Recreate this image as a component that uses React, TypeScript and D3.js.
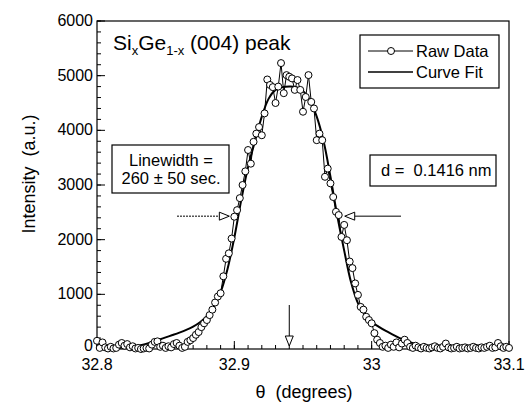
import * as d3 from "d3";

// raw scan: theta = rawStart + i * rawStep
const rawStart = 32.8;
const rawStep = 0.002;
const rawIntensity = [
  150, 20, 120, 30, 10, 40, 10, 20, 80, 110,
  60, 90, 30, 50, 10, 20, 0, 10, 20, 10,
  80, 130, 140, 40, 60, 20, 50, 30, 90, 110,
  60, 20, 40, 130, 160, 200, 260, 310, 400, 470,
  530, 620, 720, 850, 960, 1020, 1330, 1650, 1750, 2020,
  2420, 2540, 2760, 3000, 3250, 3640, 3390, 3790, 3940, 4060,
  3910, 4310, 4930, 4830, 4790, 4500, 4800, 5230, 4680, 5010,
  4980, 4950, 4740, 4920, 4740, 4340, 4610, 5010, 4520, 4400,
  3820, 3940, 3820, 3150, 3300, 3030, 2780, 2510, 2450, 2050,
  2270, 1990, 1600, 1480, 1200, 990, 770, 720, 590, 530,
  470, 290, 170, 110, 40, 60, 20, 80, 40, 120,
  30, 100, 170, 110, 40, 20, 60, 30, 10, 40,
  20, 10, 30, 50, 20, 10, 40, 100, 30, 10,
  20, 40, 10, 20, 30, 10, 20, 40, 20, 10,
  30, 20, 40, 60, 20, 30, 110, 50, 20, 40,
  20,
];

// fitted curve: theta = fitStart + i * fitStep
const fitStart = 32.8;
const fitStep = 0.005;
const fitIntensity = [
  0, 4, 9, 16, 26, 40, 60, 88, 126, 168,
  212, 255, 300, 350, 410, 490, 600, 770, 1040, 1460,
  2040, 2720, 3330, 3800, 4250, 4580, 4740, 4790, 4800, 4790,
  4720, 4550, 4250, 3800, 3150, 2430, 1800, 1220, 840, 630,
  495, 410, 335, 268, 205, 150, 104, 68, 42, 26,
  15, 9, 5, 3, 2, 1, 0, 0, 0, 0,
  0,
];

const xTicks = [32.8, 32.9, 33, 33.1];
const yTicks = [0, 1000, 2000, 3000, 4000, 5000, 6000];
const peakTheta = 32.94;
const halfLeft = 32.9;
const halfRight = 32.976;
const halfMax = 2430;

const W = 526;
const H = 405;
const font = "'Liberation Sans', Arial, Helvetica, sans-serif";

export default function App() {
  const x = d3.scaleLinear().domain([32.8, 33.1]).range([97, 509]);
  const y = d3.scaleLinear().domain([0, 6000]).range([349, 21]);

  const raw = rawIntensity.map((v, i) => [rawStart + i * rawStep, v] as [number, number]);
  const fit = fitIntensity.map((v, i) => [fitStart + i * fitStep, v] as [number, number]);

  const rawLine = d3.line<[number, number]>().x((d) => x(d[0])).y((d) => y(d[1]));
  const fitLine = d3
    .line<[number, number]>()
    .x((d) => x(d[0]))
    .y((d) => y(d[1]))
    .curve(d3.curveCatmullRom.alpha(0.5));

  const xMinor = d3.range(0, 31).map((i) => 32.8 + i * 0.01);
  const yMinor = d3.range(0, 31).map((i) => i * 200);

  // open arrow head pointing in direction (dx, dy)
  const head = (tx: number, ty: number, dx: number, dy: number) => {
    const L = 10, w = 4;
    const bx = tx - dx * L, by = ty - dy * L;
    const px = -dy * w, py = dx * w;
    return `M${tx},${ty}L${bx + px},${by + py}L${bx - px},${by - py}Z`;
  };

  const hy = y(halfMax);
  const lx = x(halfLeft) - 5;
  const rx = x(halfRight) + 6;
  const px = x(peakTheta);

  return (
    <svg
      width={W}
      height={H}
      style={{ position: "absolute", left: 0, top: 0, background: "#fff" }}
      fontFamily={font}
    >
      <rect x={0} y={0} width={W} height={H} fill="#fff" />
      {/* frame */}
      <rect x={97} y={21} width={412} height={328} fill="none" stroke="#000" strokeWidth={1.2} />

      {/* x ticks */}
      {xMinor.map((t, i) => (
        <line key={"xm" + i} x1={x(t)} x2={x(t)} y1={349} y2={345} stroke="#000" />
      ))}
      {xTicks.map((t) => (
        <g key={"xt" + t}>
          <line x1={x(t)} x2={x(t)} y1={349} y2={341} stroke="#000" />
          <text x={x(t)} y={370} fontSize={16} textAnchor="middle">
            {t}
          </text>
        </g>
      ))}

      {/* y ticks */}
      {yMinor.map((t, i) => (
        <line key={"ym" + i} x1={97} x2={101} y1={y(t)} y2={y(t)} stroke="#000" />
      ))}
      {yTicks.map((t) => (
        <g key={"yt" + t}>
          <line x1={97} x2={105} y1={y(t)} y2={y(t)} stroke="#000" />
          <text x={93} y={y(t) + (t === 0 ? 2 : 5)} fontSize={16} textAnchor="end">
            {t}
          </text>
        </g>
      ))}

      {/* axis titles */}
      <text
        transform={`translate(35,${174}) rotate(-90)`}
        fontSize={18}
        textAnchor="middle"
        xmlSpace="preserve"
      >
        Intensity  (a.u.)
      </text>
      <text x={304} y={398} fontSize={18} textAnchor="middle" xmlSpace="preserve">
        θ  (degrees)
      </text>

      {/* curve fit */}
      <path d={fitLine(fit) || ""} fill="none" stroke="#000" strokeWidth={2} />
      {/* raw data */}
      <path d={rawLine(raw) || ""} fill="none" stroke="#000" strokeWidth={1} />
      {raw.map((d, i) => (
        <circle key={"p" + i} cx={x(d[0])} cy={y(d[1])} r={3.5} fill="#fff" stroke="#000" strokeWidth={1} />
      ))}

      {/* title */}
      <text x={113} y={50} fontSize={21}>
        Si
        <tspan fontSize={13} dy={5}>x</tspan>
        <tspan dy={-5}>Ge</tspan>
        <tspan fontSize={13} dy={5}>1-x</tspan>
        <tspan dy={-5}> (004) peak</tspan>
      </text>

      {/* legend */}
      <rect x={360} y={35} width={139} height={53} fill="#fff" stroke="#000" strokeWidth={1.2} />
      <line x1={368} x2={413} y1={51} y2={51} stroke="#000" />
      <circle cx={391} cy={51} r={3.5} fill="#fff" stroke="#000" />
      <text x={416} y={57} fontSize={16.5}>Raw Data</text>
      <line x1={368} x2={413} y1={72} y2={72} stroke="#000" strokeWidth={1.5} />
      <text x={416} y={78} fontSize={16.5}>Curve Fit</text>

      {/* linewidth box */}
      <rect x={112} y={145} width={117} height={48} fill="#fff" stroke="#000" strokeWidth={1.2} />
      <text x={171} y={166} fontSize={16.5} textAnchor="middle">Linewidth =</text>
      <text x={171} y={184} fontSize={16.5} textAnchor="middle">260 ± 50 sec.</text>

      {/* d box */}
      <rect x={370} y={155} width={126} height={31} fill="#fff" stroke="#000" strokeWidth={1.2} />
      <text x={381} y={176} fontSize={16.5} xmlSpace="preserve">d =  0.1416 nm</text>

      {/* half-max arrows */}
      <line x1={177} x2={lx - 10} y1={hy} y2={hy} stroke="#000" strokeDasharray="2,1" />
      <path d={head(lx, hy, 1, 0)} fill="#fff" stroke="#000" />
      <line x1={401} x2={rx + 10} y1={hy} y2={hy} stroke="#000" />
      <path d={head(rx, hy, -1, 0)} fill="#fff" stroke="#000" />
      {/* peak arrow */}
      <line x1={px} x2={px} y1={305} y2={336} stroke="#000" />
      <path d={head(px, 346, 0, 1)} fill="#fff" stroke="#000" />
    </svg>
  );
}
